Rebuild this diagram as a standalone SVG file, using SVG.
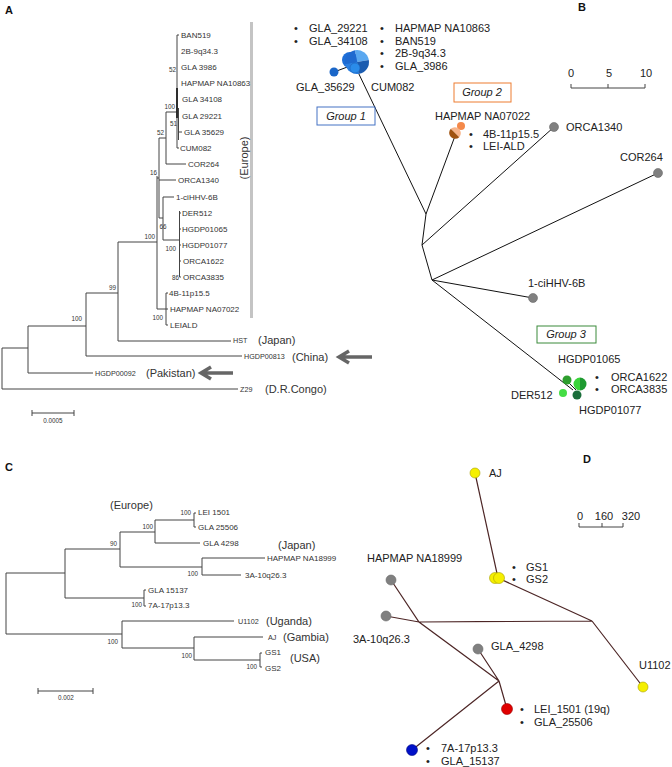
<svg xmlns="http://www.w3.org/2000/svg" width="672" height="767" viewBox="0 0 672 767">
<style>
text{font-family:"Liberation Sans",Arial,sans-serif;fill:#222}
.pl{font-size:11px;font-weight:bold;fill:#111}
.lf{font-size:8px;fill:#333}
.sm{font-size:7.2px;fill:#333}
.bs{font-size:6.3px;fill:#333}
.rg{font-size:11px;fill:#333}
.nl{font-size:11px;fill:#222}
.gp{font-size:11px;font-style:italic;fill:#222}
.tr{stroke:#444;stroke-width:1;fill:none}
.nw{stroke:#111;stroke-width:1;fill:none}
.dw{stroke:#4d2626;stroke-width:1.2;fill:none}
.ar{stroke:#666;stroke-width:3.5;fill:none}
.sc{stroke:#444;stroke-width:1;fill:none}
.gn{fill:#808080;stroke:#6a6a6a;stroke-width:0.6}
.yn{fill:#f5ef00;stroke:#a89f00;stroke-width:0.6}
</style>

<!-- Panel labels -->
<text class="pl" x="5" y="14">A</text>
<text class="pl" x="578" y="11">B</text>
<text class="pl" x="5" y="471">C</text>
<text class="pl" x="583" y="463">D</text>

<!-- ================= Panel A tree ================= -->
<g id="treeA-connectors">
<path class="tr" d="M2,348 V389 M2,348 H28 M2,389 H238
M28,326 V373 M28,373 H93 M28,326 H86
M86,293 V356 M86,356 H242 M86,293 H118
M118,242 V341 M118,341 H231 M118,242 H157
M157,176 V309 M157,309 H166 M166,293 V325 M166,293 H168 M166,309 H168 M166,325 H168
M157,178 H159 M159,138 V218 M159,180 H176
M159,218 H163 M163,197 V240 M163,197 H174 M163,240 H179
M179.5,211 V277 M179.5,213 H181 M179.5,229 H181 M179.5,245 H181 M179.5,261 H181 M179.5,277 H181
M159,138 H166 M166,112 V164 M166,164 H186 M166,112 H177
M177,35 V148 M177,35 H179 M177,148 H179 M178.5,108 V140 M178.5,132 H182"/>
<path d="M177,88 V118" stroke="#222" stroke-width="1.8"/>
</g>
<rect x="250" y="22" width="3" height="296" fill="#c4c4c4"/>
<text class="rg" transform="translate(248,158) rotate(-90)" text-anchor="middle">(Europe)</text>

<g id="leavesA">
<text class="lf" x="181" y="38">BAN519</text>
<text class="lf" x="181" y="54">2B-9q34.3</text>
<text class="lf" x="181" y="70">GLA 3986</text>
<text class="lf" x="181" y="86">HAPMAP NA10863</text>
<text class="lf" x="182" y="102">GLA 34108</text>
<text class="lf" x="182" y="119">GLA 29221</text>
<text class="lf" x="184" y="135">GLA 35629</text>
<text class="lf" x="180" y="151">CUM082</text>
<text class="lf" x="188" y="167">COR264</text>
<text class="lf" x="178" y="183">ORCA1340</text>
<text class="lf" x="176" y="200">1-ciHHV-6B</text>
<text class="lf" x="182" y="216">DER512</text>
<text class="lf" x="182" y="232">HGDP01065</text>
<text class="lf" x="182" y="248">HGDP01077</text>
<text class="lf" x="183" y="264">ORCA1622</text>
<text class="lf" x="183" y="280">ORCA3835</text>
<text class="lf" x="169" y="296">4B-11p15.5</text>
<text class="lf" x="170" y="312">HAPMAP NA07022</text>
<text class="lf" x="170" y="328">LEIALD</text>
<text class="sm" x="233" y="343">HST</text>
<text class="rg" x="258" y="344">(Japan)</text>
<text class="sm" x="244" y="359">HGDP00813</text>
<text class="rg" x="292" y="361">(China)</text>
<text class="sm" x="95" y="376">HGDP00092</text>
<text class="rg" x="146" y="377">(Pakistan)</text>
<text class="sm" x="240" y="392">Z29</text>
<text class="rg" x="265" y="393">(D.R.Congo)</text>
</g>
<g id="bootA">
<text class="bs" x="176" y="72" text-anchor="end">52</text>
<text class="bs" x="175" y="109" text-anchor="end">100</text>
<text class="bs" x="177" y="126" text-anchor="end">51</text>
<text class="bs" x="164" y="135" text-anchor="end">52</text>
<text class="bs" x="157" y="175" text-anchor="end">16</text>
<text class="bs" x="163" y="229" text-anchor="middle">66</text>
<text class="bs" x="176" y="251" text-anchor="end">100</text>
<text class="bs" x="179" y="280" text-anchor="end">86</text>
<text class="bs" x="163" y="320" text-anchor="end">100</text>
<text class="bs" x="155" y="239" text-anchor="end">100</text>
<text class="bs" x="116" y="290" text-anchor="end">99</text>
<text class="bs" x="82" y="321" text-anchor="end">100</text>
</g>
<g id="arrowsA">
<path class="ar" d="M342,357 H372 M349,351 L339,357 L349,363"/>
<path class="ar" d="M204,373 H233 M211,367 L201,373 L211,379"/>
</g>
<g id="scaleA">
<path class="sc" d="M32,413 H74 M32,410 V416 M74,410 V416"/>
<text class="bs" x="53" y="423" text-anchor="middle">0.0005</text>
</g>

<!-- ================= Panel B network ================= -->
<g id="connectorsB">
<path class="nw" d="M357,70 L426,214 M455,136 L426,214 M426,214 L422,245 M422,245 L554,127 M422,245 L432,280 M432,280 L658,173 M432,280 L533,298 M432,280 L573,390 M334,72 L350,66 M567,381 L576,390"/>
</g>
<g id="scaleB">
<path class="sc" d="M571,88 H645 M571,84 V88 M608,84 V88 M645,84 V88"/>
<text class="nl" x="571" y="77" text-anchor="middle">0</text>
<text class="nl" x="609" y="77" text-anchor="middle">5</text>
<text class="nl" x="646" y="77" text-anchor="middle">10</text>
</g>
<g id="group1">
<circle cx="350" cy="60" r="8" fill="#1e6fd8"/>
<path d="M357,62 L354.92,50.18 A12,12 0 0 1 368.82,59.92 Z" fill="#5aa8f0"/>
<path d="M357,62 L368.82,59.92 A12,12 0 0 1 359.08,73.82 Z" fill="#1b5cb0"/>
<path d="M357,62 L359.08,73.82 A12,12 0 0 1 345.18,64.08 Z" fill="#2b7fe0"/>
<path d="M357,62 L345.18,64.08 A12,12 0 0 1 354.92,50.18 Z" fill="#1f6ad0"/>
<circle cx="355" cy="68" r="5" fill="#2a8cea" stroke="#1b5cb0" stroke-width="0.5"/>
<circle cx="334" cy="72" r="4.5" fill="#1a66c8"/>
<rect x="317" y="107" width="58" height="18" fill="none" stroke="#4472c4" stroke-width="1"/>
<text class="gp" x="346" y="120" text-anchor="middle">Group 1</text>
<text class="nl" x="294" y="32">•</text><text class="nl" x="309" y="32">GLA_29221</text>
<text class="nl" x="294" y="45">•</text><text class="nl" x="309" y="45">GLA_34108</text>
<text class="nl" x="380" y="32">•</text><text class="nl" x="395" y="32">HAPMAP NA10863</text>
<text class="nl" x="380" y="45">•</text><text class="nl" x="395" y="45">BAN519</text>
<text class="nl" x="380" y="57">•</text><text class="nl" x="395" y="57">2B-9q34.3</text>
<text class="nl" x="380" y="70">•</text><text class="nl" x="395" y="70">GLA_3986</text>
<text class="nl" x="296" y="91">GLA_35629</text>
<text class="nl" x="371" y="91">CUM082</text>
</g>
<g id="group2">
<circle cx="461" cy="126" r="4" fill="#f4894a"/>
<path d="M455,133 L450.76,128.76 A6,6 0 0 1 459.24,137.24 Z" fill="#f7b48a"/>
<path d="M455,133 L459.24,137.24 A6,6 0 0 1 450.76,128.76 Z" fill="#a0520f"/>
<rect x="454" y="83" width="57" height="19" fill="none" stroke="#ed7d31" stroke-width="1"/>
<text class="gp" x="482" y="96" text-anchor="middle">Group 2</text>
<text class="nl" x="435" y="120">HAPMAP NA07022</text>
<text class="nl" x="469" y="138">•</text><text class="nl" x="483" y="138">4B-11p15.5</text>
<text class="nl" x="469" y="150">•</text><text class="nl" x="483" y="150">LEI-ALD</text>
</g>
<g id="orca1340"><circle class="gn" cx="554" cy="127" r="4.5"/><text class="nl" x="566" y="131">ORCA1340</text></g>
<g id="cor264"><circle class="gn" cx="658" cy="173" r="4.5"/><text class="nl" x="620" y="161">COR264</text></g>
<g id="cihhv6b"><circle class="gn" cx="533" cy="298" r="4.5"/><text class="nl" x="528" y="287">1-ciHHV-6B</text></g>
<g id="group3">
<circle cx="567" cy="380" r="4.5" fill="#2e9e2e"/>
<path d="M580,384 L580,377.5 A6.5,6.5 0 0 1 580,390.5 Z" fill="#1e9a30"/>
<path d="M580,384 L580,390.5 A6.5,6.5 0 0 1 580,377.5 Z" fill="#3bd43b"/>
<circle cx="563" cy="393" r="4" fill="#44dd44"/>
<circle cx="577" cy="395" r="4.5" fill="#1a6e3a"/>
<rect x="537" y="326" width="59" height="17" fill="none" stroke="#3a8a3a" stroke-width="1"/>
<text class="gp" x="566" y="338" text-anchor="middle">Group 3</text>
<text class="nl" x="558" y="363">HGDP01065</text>
<text class="nl" x="595" y="381">•</text><text class="nl" x="611" y="381">ORCA1622</text>
<text class="nl" x="595" y="393">•</text><text class="nl" x="611" y="393">ORCA3835</text>
<text class="nl" x="511" y="399">DER512</text>
<text class="nl" x="579" y="414">HGDP01077</text>
</g>

<!-- ================= Panel C tree ================= -->
<g id="treeC-connectors">
<path class="tr" d="M6,573 V634 M6,573 H65 M65,549 V598 M65,549 H120 M120,532 V567 M120,532 H155 M155,520 V543 M155,520 H194 M194,513 V527 M194,513 H196 M194,527 H196 M155,543 H200
M120,567 H202 M202,558 V575 M202,558 H265 M202,575 H241
M65,598 H144 M144,590 V606 M144,590 H146 M144,606 H146
M6,634 H122 M122,621 V648 M122,621 H234 M122,648 H194 M194,637 V660 M194,637 H263 M194,660 H260 M260,653 V667 M260,653 H262 M260,667 H262"/>
</g>
<g id="leavesC">
<text class="rg" x="110" y="509">(Europe)</text>
<text class="lf" x="198" y="515">LEI 1501</text>
<text class="lf" x="198" y="530">GLA 25506</text>
<text class="lf" x="203" y="546">GLA 4298</text>
<text class="rg" x="278" y="549">(Japan)</text>
<text class="lf" x="267" y="561">HAPMAP NA18999</text>
<text class="lf" x="245" y="578">3A-10q26.3</text>
<text class="lf" x="148" y="593">GLA 15137</text>
<text class="lf" x="148" y="608">7A-17p13.3</text>
<text class="sm" x="238" y="624">U1102</text>
<text class="rg" x="266" y="625">(Uganda)</text>
<text class="sm" x="268" y="640">AJ</text>
<text class="rg" x="283" y="641">(Gambia)</text>
<text class="lf" x="265" y="655">GS1</text>
<text class="lf" x="265" y="671">GS2</text>
<text class="rg" x="290" y="662">(USA)</text>
</g>
<g id="bootC">
<text class="bs" x="191" y="515" text-anchor="end">100</text>
<text class="bs" x="153" y="529" text-anchor="end">100</text>
<text class="bs" x="117" y="546" text-anchor="end">90</text>
<text class="bs" x="198" y="576" text-anchor="end">100</text>
<text class="bs" x="142" y="607" text-anchor="end">100</text>
<text class="bs" x="118" y="644" text-anchor="end">100</text>
<text class="bs" x="192" y="658" text-anchor="end">100</text>
<text class="bs" x="257" y="669" text-anchor="end">100</text>
</g>
<g id="scaleC">
<path class="sc" d="M38,691 H93 M38,688 V694 M93,688 V694"/>
<text class="bs" x="66" y="700" text-anchor="middle">0.002</text>
</g>

<!-- ================= Panel D network ================= -->
<g id="connectorsD">
<path class="dw" d="M475,473 L498,578 M498,578 L592,621 M592,621 L643,687 M386,616 L419,622 L592,621 M391,580 L419,622 L499,681 M478,649 L499,681 M499,681 L507,709 M499,681 L412,750"/>
</g>
<g id="scaleD">
<path class="sc" d="M579,527 H623 M579,523 V527 M602,523 V527 M623,523 V527"/>
<text class="nl" x="580" y="520" text-anchor="middle">0</text>
<text class="nl" x="604" y="520" text-anchor="middle">160</text>
<text class="nl" x="631" y="520" text-anchor="middle">320</text>
</g>
<g id="nodeAJ"><circle class="yn" cx="475" cy="473" r="5"/><text class="nl" x="489" y="477">AJ</text></g>
<g id="nodeGS">
<circle class="yn" cx="495" cy="578" r="5.5"/><circle class="yn" cx="499" cy="578" r="5.5"/>
<text class="nl" x="512" y="571">•</text><text class="nl" x="526" y="571">GS1</text>
<text class="nl" x="512" y="583">•</text><text class="nl" x="526" y="583">GS2</text>
</g>
<g id="nodeHAPMAP"><circle class="gn" cx="391" cy="580" r="5"/><text class="nl" x="367" y="562">HAPMAP NA18999</text></g>
<g id="node3A"><circle class="gn" cx="386" cy="616" r="5"/><text class="nl" x="353" y="643">3A-10q26.3</text></g>
<g id="nodeGLA4298"><circle class="gn" cx="478" cy="649" r="5"/><text class="nl" x="491" y="650">GLA_4298</text></g>
<g id="nodeLEI">
<circle cx="507" cy="709" r="5.5" fill="#e00000" stroke="#900" stroke-width="0.6"/>
<text class="nl" x="520" y="713">•</text><text class="nl" x="534" y="713">LEI_1501 (19q)</text>
<text class="nl" x="520" y="726">•</text><text class="nl" x="534" y="726">GLA_25506</text>
</g>
<g id="node7A">
<circle cx="412" cy="750" r="5.5" fill="#0010c8" stroke="#000880" stroke-width="0.6"/>
<text class="nl" x="426" y="752">•</text><text class="nl" x="441" y="752">7A-17p13.3</text>
<text class="nl" x="426" y="765">•</text><text class="nl" x="441" y="765">GLA_15137</text>
</g>
<g id="nodeU1102"><circle class="yn" cx="643" cy="687" r="5"/><text class="nl" x="639" y="669">U1102</text></g>
</svg>
